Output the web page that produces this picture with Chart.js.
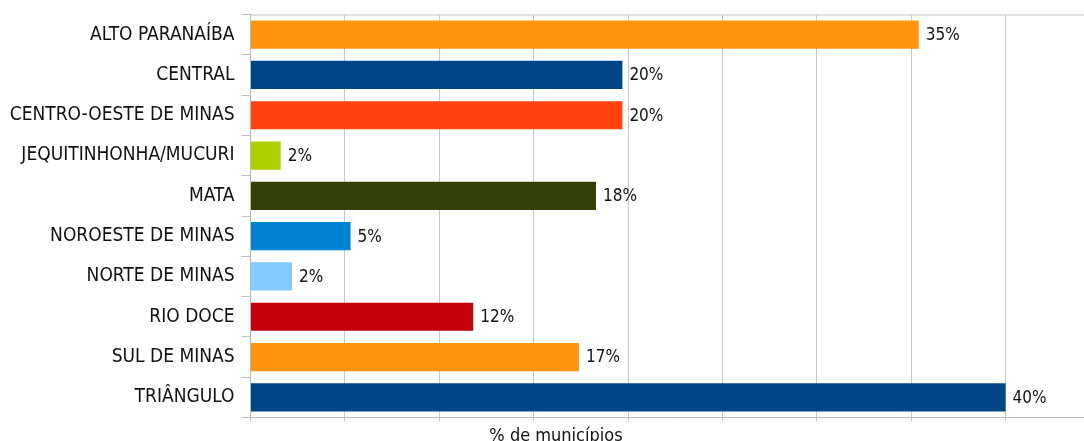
<!DOCTYPE html>
<html>
<head>
<meta charset="utf-8">
<script src="https://cdn.jsdelivr.net/npm/chart.js@4"></script>
<style>
  html, body { margin: 0; padding: 0; background: #fff; overflow: hidden; }
  #wrap { width: 1100px; height: 441px; }
</style>
</head>
<body>
<div id="wrap"><canvas id="regChart"></canvas></div>
<script>
const regioes = ["ALTO PARANAÍBA", "CENTRAL", "CENTRO-OESTE DE MINAS", "JEQUITINHONHA/MUCURI", "MATA",
  "NOROESTE DE MINAS", "NORTE DE MINAS", "RIO DOCE", "SUL DE MINAS", "TRIÂNGULO"];
const percentuais = [35.4, 19.7, 19.7, 1.6, 18.3, 5.3, 2.2, 11.8, 17.4, 40.0];
const rotulos = ["35%", "20%", "20%", "2%", "18%", "5%", "2%", "12%", "17%", "40%"];
const cores = ["#ff950e", "#004586", "#ff420e", "#aecf00", "#314004",
  "#0084d1", "#83caff", "#c5000b", "#ff950e", "#004586"];

const fonte = "'Liberation Sans Narrow', 'DejaVu Sans Condensed', sans-serif";
const ctx = document.getElementById("regChart");

const extras = {
  id: "extras",
  afterDatasetsDraw(chart) {
    const c = chart.ctx;
    const area = chart.chartArea;
    c.save();
    // linha superior
    c.strokeStyle = "#c4c4c4";
    c.lineWidth = 1;
    c.beginPath();
    c.moveTo(area.left, area.top + 0.5);
    c.lineTo(area.right, area.top + 0.5);
    c.stroke();
    // rótulos das barras
    c.fillStyle = "#111";
    c.font = "17px " + fonte;
    c.textBaseline = "middle";
    c.textAlign = "left";
    chart.getDatasetMeta(0).data.forEach((bar, i) => {
      c.fillText(rotulos[i], bar.x + 7, bar.y + 1);
    });
    // título do eixo
    c.font = "18px " + fonte;
    c.textAlign = "center";
    c.textBaseline = "alphabetic";
    c.fillText("% de municípios", 556, 441);
    c.restore();
  }
};

new Chart(ctx, {
  type: "bar",
  data: {
    labels: regioes,
    datasets: [
      {
        data: percentuais,
        backgroundColor: cores,
        borderWidth: 0,
        barPercentage: 0.7,
        categoryPercentage: 1,
      },
    ],
  },
  options: {
    indexAxis: "y",
    responsive: true,
    maintainAspectRatio: false,
    animation: false,
    layout: { padding: { top: 14.5, left: 0, right: 0, bottom: 0 } },
    plugins: {
      legend: { display: false },
      tooltip: { enabled: false },
    },
    scales: {
      x: {
        min: 0,
        max: 45,
        ticks: { display: false, stepSize: 5 },
        grid: { color: "#c8c8c8", tickLength: 4 },
        border: { color: "#b8b8b8" },
        afterFit(scale) {
          scale.height = 23.5;
          scale.paddingLeft = 0;
          scale.paddingRight = 0;
        },
      },
      y: {
        ticks: { color: "#111", padding: 7, font: { family: fonte, size: 19 } },
        grid: { drawOnChartArea: false, drawTicks: true, tickLength: 9, color: "#c0c0c0", offset: true },
        border: { color: "#b8b8b8", width: 1 },
        afterFit(scale) {
          scale.width = 250.5;
          scale.paddingTop = 0;
          scale.paddingBottom = 0;
        },
      },
    },
  },
  plugins: [extras],
});
</script>
</body>
</html>
